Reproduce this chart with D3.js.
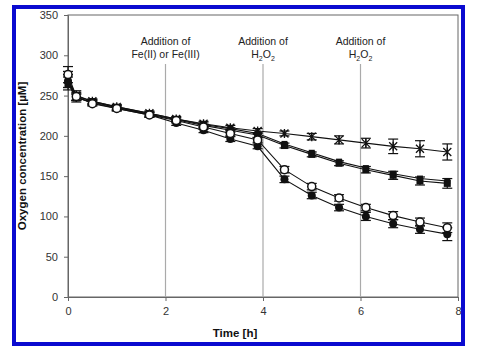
<!DOCTYPE html>
<html><head><meta charset="utf-8">
<script src="https://cdn.jsdelivr.net/npm/d3@7"></script>
<style>body{margin:0;background:#fff}svg{display:block;font-family:"Liberation Sans",Arial,sans-serif}</style>
</head><body><svg id="c" width="479" height="355"></svg>
<script>
const times = [0, 0.17, 0.5, 1.0, 1.67, 2.22, 2.78, 3.33, 3.89, 4.44, 5.0, 5.56, 6.11, 6.67, 7.22, 7.78];
const filledCircle = [268, 248, 241, 234, 226, 216, 207, 196, 187, 146, 126, 111, 100, 91, 84, 78];
const filledCircleErr = [8, 4, 3, 3, 3, 3, 3, 3, 3, 4, 4, 4, 5, 5, 5, 8];
const openCircle = [276, 249, 240, 234, 226, 219, 211, 203, 195, 158, 137, 123, 111, 101, 93, 86];
const openCircleErr = [10, 5, 3, 3, 3, 3, 3, 3, 3, 4, 4, 4, 4, 5, 5, 6];
const squareA = [267, 249, 243, 236, 228, 221, 214, 209, 203, 190, 179, 168, 160, 153, 147, 144];
const filledSquare = [265, 247, 242, 235, 227, 220, 213, 207, 201, 188, 177, 166, 158, 151, 144, 141];
const filledSquareErr = [8, 5, 3, 3, 3, 3, 3, 3, 3, 3, 3, 3, 4, 5, 5, 6];
const star = [270, 250, 243, 236, 228, 221, 215, 210, 206, 203, 199, 195, 191, 187, 184, 180];
const starErr = [10, 6, 3, 3, 3, 3, 3, 3, 3, 3, 4, 5, 6, 9, 10, 10];
const xTicks = [0, 2, 4, 6, 8];
const yTicks = [0, 50, 100, 150, 200, 250, 300, 350];
const events = [2, 4, 6];
const eventLabels = [["Addition of", "Fe(II) or Fe(III)"], ["Addition of", "H2O2"], ["Addition of", "H2O2"]];

const svg = d3.select("#c");
const x = d3.scaleLinear().domain([0, 8]).range([68, 458]);
const y = d3.scaleLinear().domain([0, 350]).range([297, 15]);
const axisCol = "#666";

// blue frame
svg.append("rect").attr("x", 14).attr("y", 7).attr("width", 449).attr("height", 337)
  .attr("fill", "none").attr("stroke", "#0a0ad0").attr("stroke-width", 4);

// plot box
svg.append("rect").attr("x", x(0)).attr("y", y(350)).attr("width", x(8) - x(0)).attr("height", y(0) - y(350))
  .attr("fill", "none").attr("stroke", axisCol).attr("stroke-width", 1);

// event lines
events.forEach((e, i) => {
  svg.append("line").attr("x1", x(e)).attr("x2", x(e)).attr("y1", 64).attr("y2", y(0))
    .attr("stroke", "#aaa").attr("stroke-width", 1.2);
  const g = svg.append("text").attr("text-anchor", "middle").attr("font-size", 10.5).attr("fill", "#222");
  g.append("tspan").attr("x", x(e)).attr("y", 45).text(eventLabels[i][0]);
  if (eventLabels[i][1] === "H2O2") {
    const t = g.append("tspan").attr("x", x(e)).attr("y", 58);
    t.append("tspan").text("H");
    t.append("tspan").attr("font-size", 7).attr("dy", 3).text("2");
    t.append("tspan").attr("dy", -3).text("O");
    t.append("tspan").attr("font-size", 7).attr("dy", 3).text("2");
  } else {
    g.append("tspan").attr("x", x(e)).attr("y", 58).text(eventLabels[i][1]);
  }
});

// axes
const yAx = svg.append("g").attr("transform", `translate(${x(0)},0)`)
  .call(d3.axisLeft(y).tickValues(yTicks).tickSize(4).tickPadding(6));
const xAx = svg.append("g").attr("transform", `translate(0,${y(0)})`)
  .call(d3.axisBottom(x).tickValues(xTicks).tickSize(4).tickPadding(6));
[yAx, xAx].forEach(a => {
  a.select(".domain").attr("stroke", axisCol);
  a.selectAll(".tick line").attr("stroke", axisCol);
  a.selectAll("text").attr("font-size", 11).attr("fill", "#333").attr("font-family", "Liberation Sans, Arial, sans-serif");
});

svg.append("text").attr("x", x(4) - 28).attr("y", 337).attr("text-anchor", "middle")
  .attr("font-size", 11.5).attr("font-weight", "bold").attr("fill", "#111").text("Time [h]");
svg.append("text").attr("transform", `translate(26,${y(175)}) rotate(-90)`).attr("text-anchor", "middle")
  .attr("font-size", 11.5).attr("font-weight", "bold").attr("fill", "#111").text("Oxygen concentration [µM]");

const line = d3.line().x((d, i) => x(times[i])).y(d => y(d));

function errBars(vals, errs) {
  const g = svg.append("g").attr("stroke", "#111").attr("stroke-width", 1.2);
  vals.forEach((v, i) => {
    const cx = x(times[i]);
    g.append("line").attr("x1", cx).attr("x2", cx).attr("y1", y(v + errs[i])).attr("y2", y(v - errs[i]));
    [v + errs[i], v - errs[i]].forEach(w => g.append("line").attr("x1", cx - 5).attr("x2", cx + 5).attr("y1", y(w)).attr("y2", y(w)));
  });
}
function drawLine(vals) {
  svg.append("path").attr("d", line(vals)).attr("fill", "none").attr("stroke", "#111").attr("stroke-width", 1.1);
}

// lines
drawLine(star); drawLine(squareA); drawLine(filledSquare); drawLine(openCircle); drawLine(filledCircle);
errBars(star, starErr); errBars(filledSquare, filledSquareErr); errBars(openCircle, openCircleErr); errBars(filledCircle, filledCircleErr);

// markers
const ast = "M-4,-4L4,4M-4,4L4,-4M0,-4.5L0,4.5";
svg.append("g").selectAll("path").data(star).join("path")
  .attr("transform", (d, i) => `translate(${x(times[i])},${y(d)})`).attr("d", ast)
  .attr("stroke", "#111").attr("stroke-width", 1.3).attr("fill", "none");
svg.append("g").selectAll("rect").data(squareA).join("rect")
  .attr("x", (d, i) => x(times[i]) - 3).attr("y", d => y(d) - 3).attr("width", 6).attr("height", 6).attr("fill", "#111");
svg.append("g").selectAll("rect").data(filledSquare).join("rect")
  .attr("x", (d, i) => x(times[i]) - 3.5).attr("y", d => y(d) - 3.5).attr("width", 7).attr("height", 7).attr("fill", "#111");
svg.append("g").selectAll("circle").data(filledCircle).join("circle")
  .attr("cx", (d, i) => x(times[i])).attr("cy", d => y(d)).attr("r", 4).attr("fill", "#111");
svg.append("g").selectAll("circle").data(openCircle).join("circle")
  .attr("cx", (d, i) => x(times[i])).attr("cy", d => y(d)).attr("r", 4).attr("fill", "#fff").attr("stroke", "#111").attr("stroke-width", 1.5);
</script></body></html>
